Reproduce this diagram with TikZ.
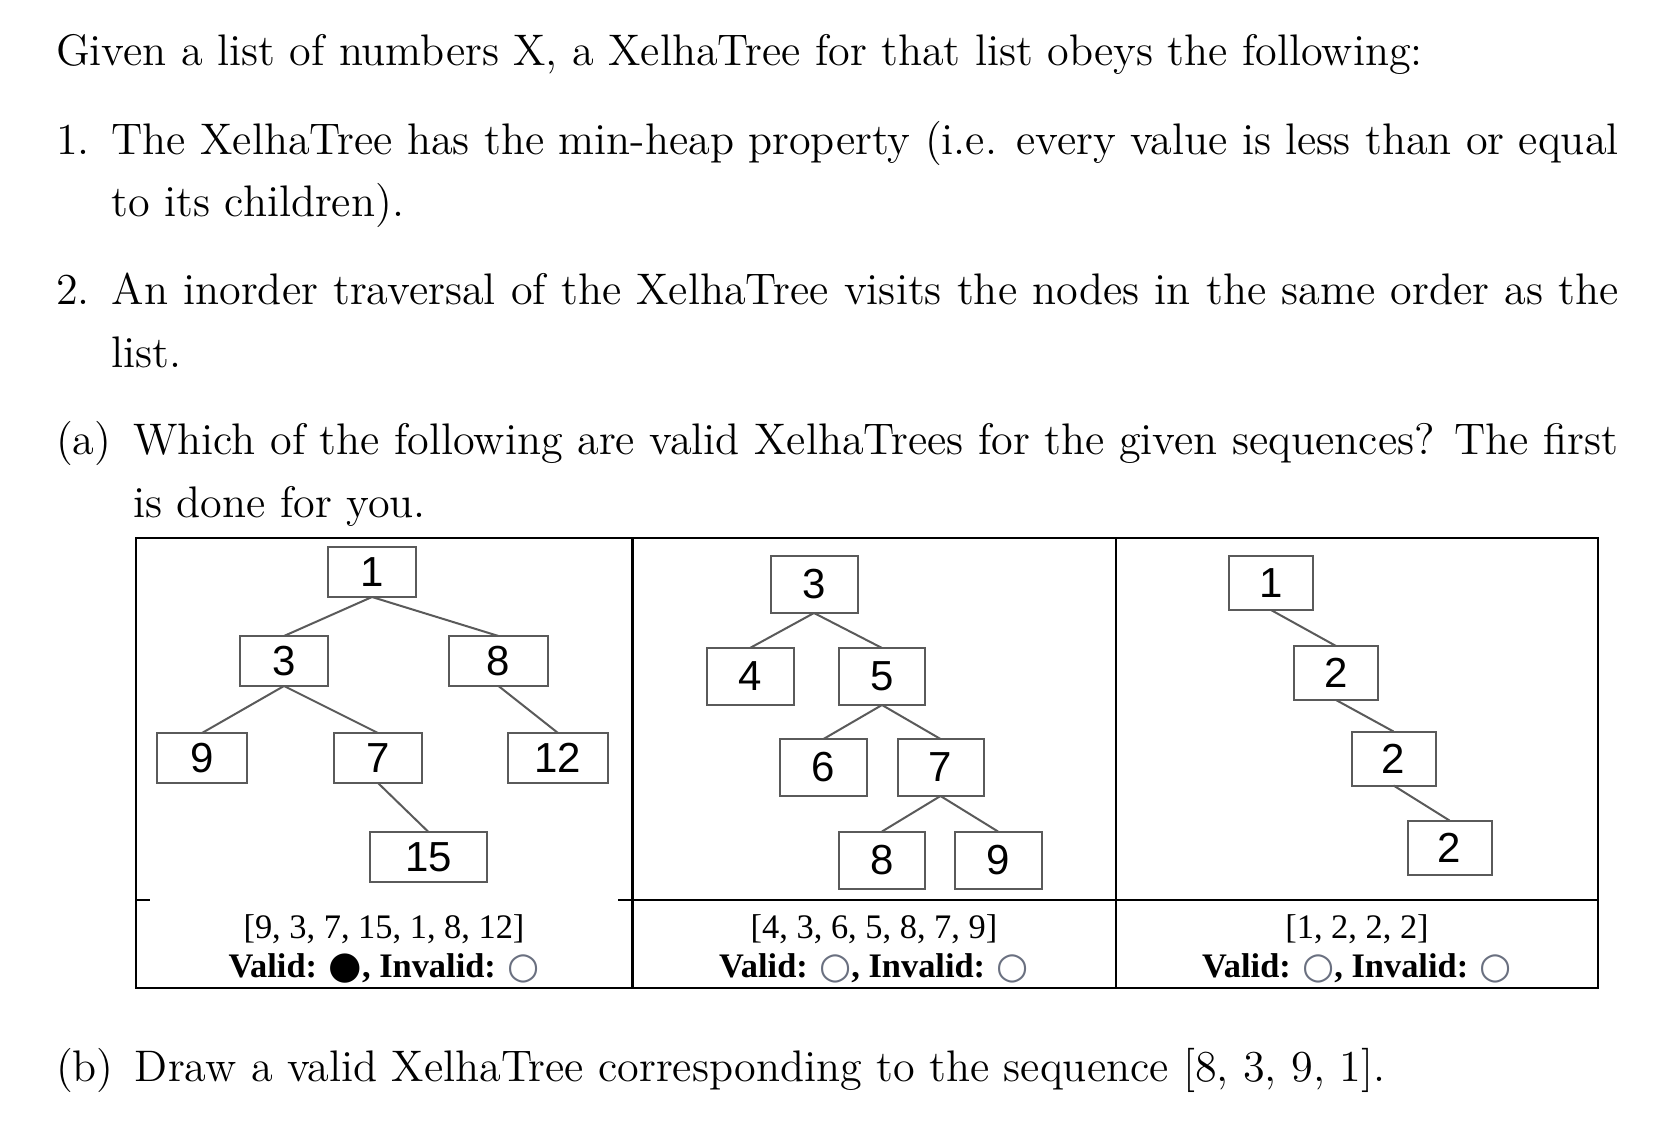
\documentclass[tikz,border=0pt]{standalone}
\usepackage{fontspec}
\usepackage{xcolor}
\usepackage{tikz}
\usetikzlibrary{positioning}

\newfontfamily\arialfont{Liberation Sans}
\newfontfamily\timesfont{Liberation Serif}
\newfontfamily\symfont{DejaVu Sans}
\definecolor{treegray}{HTML}{5A5A5A}
\definecolor{ringgray}{HTML}{6A7080}
\newcommand{\fullmark}{{\symfont\fontsize{9.6}{12}\selectfont\raisebox{-0.4pt}{●}}}
\newcommand{\openmark}{{\symfont\fontsize{9.2}{12}\selectfont\color{ringgray}\raisebox{-0.4pt}{○}}}

\begin{document}
\begin{tikzpicture}[
			x=0.25pt, y=-0.25pt,
			every node/.style={inner sep=0pt, outer sep=0pt},
			body/.style={anchor=base west, font=\fontsize{11.05}{15.6}\selectfont},
			para/.style={body, align=justify},
			tnode/.style={draw=treegray, line width=0.5pt, font=\arialfont\fontsize{10.5}{12}\selectfont},
			tedge/.style={draw=treegray, line width=0.5pt},
			tableline/.style={draw=black, line width=0.6pt},
			seqtext/.style={anchor=base, font=\timesfont\fontsize{8.6}{10}\selectfont},
			valtext/.style={anchor=base, font=\timesfont\bfseries\fontsize{8.6}{10}\selectfont}
			]
			\useasboundingbox (0,0) rectangle (1672,1123);
			
			% question text
			\node[body] (intro) at (56,66) {Given a list of numbers X, a XelhaTree for that list obeys the following:};
			\node[body] (lab1) at (56,154.3) {1.};
			\node[para, text width=376.75pt] (item1) at (111.7,154.3) {The XelhaTree has the min-heap property (i.e. every value is less than or equal\linebreak to its children).};
			\node[body] (lab2) at (56,305) {2.};
			\node[para, text width=376.75pt] (item2) at (111.7,305) {An inorder traversal of the XelhaTree visits the nodes in the same order as the\linebreak list.};
			\node[body] (laba) at (56,455) {(a)};
			\node[para, text width=371.25pt] (itema) at (133.3,455) {Which of the following are valid XelhaTrees for the given sequences? The first\linebreak is done for you.};
			\node[body] (labb) at (56,1081.7) {(b)};
			\node[body] (itemb) at (135,1081.7) {Draw a valid XelhaTree corresponding to the sequence [8, 3, 9, 1].};
			
			% table
			\draw[tableline] (136,538) rectangle (1598,988);
			\draw[tableline] (632.5,538) -- (632.5,988);
			\draw[tableline] (1116,538) -- (1116,988);
			\draw[tableline] (618,900) -- (1598,900);
			\draw[tableline] (136,900) -- (150,900);
			
			% first tree
			\node[tnode, minimum width=22pt, minimum height=12.5pt] (a1) at (372,572) {1};
			\node[tnode, minimum width=22pt, minimum height=12.5pt] (a3) at (284,661) {3};
			\node[tnode, minimum width=24.75pt, minimum height=12.5pt] (a8) at (498.5,661) {8};
			\node[tnode, minimum width=22.5pt, minimum height=12.5pt] (a9) at (202,758) {9};
			\node[tnode, minimum width=22pt, minimum height=12.5pt] (a7) at (378,758) {7};
			\node[tnode, minimum width=25pt, minimum height=12.5pt] (a12) at (558,758) {12};
			\node[tnode, minimum width=29.25pt, minimum height=12.5pt] (a15) at (428.5,857) {15};
			\path[tedge] (a1.south) edge (a3.north) edge (a8.north);
			\path[tedge] (a3.south) edge (a9.north) edge (a7.north);
			\path[tedge] (a8.south) edge (a12.north);
			\path[tedge] (a7.south) edge (a15.north);
			
			% second tree
			\node[tnode, minimum width=21.75pt, minimum height=14.25pt] (b3) at (814,584.5) {3};
			\node[tnode, minimum width=21.75pt, minimum height=14.25pt] (b4) at (750,676.5) {4};
			\node[tnode, minimum width=21.5pt, minimum height=14.25pt] (b5) at (882,676.5) {5};
			\node[tnode, minimum width=21.75pt, minimum height=14.25pt] (b6) at (823.5,767.5) {6};
			\node[tnode, minimum width=21.5pt, minimum height=14.25pt] (b7) at (940.5,767.5) {7};
			\node[tnode, minimum width=21.5pt, minimum height=14.25pt] (b8) at (882,860) {8};
			\node[tnode, minimum width=21.75pt, minimum height=14.25pt] (b9) at (998,860) {9};
			\path[tedge] (b3.south) edge (b4.north) edge (b5.north);
			\path[tedge] (b5.south) edge (b6.north) edge (b7.north);
			\path[tedge] (b7.south) edge (b8.north) edge (b9.north);
			
			% third tree
			\node[tnode, minimum width=21pt, minimum height=13.5pt] (c1) at (1271,583) {1};
			\node[tnode, minimum width=21pt, minimum height=13.5pt] (c2) at (1336,673) {2};
			\node[tnode, minimum width=21pt, minimum height=13.5pt] (c3) at (1393.5,758.5) {2};
			\node[tnode, minimum width=21pt, minimum height=13.5pt] (c4) at (1449.5,847.5) {2};
			\path[tedge] (c1.south) edge (c2.north);
			\path[tedge] (c2.south) edge (c3.north);
			\path[tedge] (c3.south) edge (c4.north);
			
			% captions
			\node[seqtext] (seqa) at (384,938) {[9, 3, 7, 15, 1, 8, 12]};
			\node[valtext] (vala) at (384,977) {Valid: \fullmark, Invalid: \openmark};
			\node[seqtext] (seqb) at (874,938) {[4, 3, 6, 5, 8, 7, 9]};
			\node[valtext] (valb) at (874,977) {Valid: \openmark, Invalid: \openmark};
			\node[seqtext] (seqc) at (1357,938) {[1, 2, 2, 2]};
			\node[valtext] (valc) at (1357,977) {Valid: \openmark, Invalid: \openmark};
		\end{tikzpicture}
\end{document}
